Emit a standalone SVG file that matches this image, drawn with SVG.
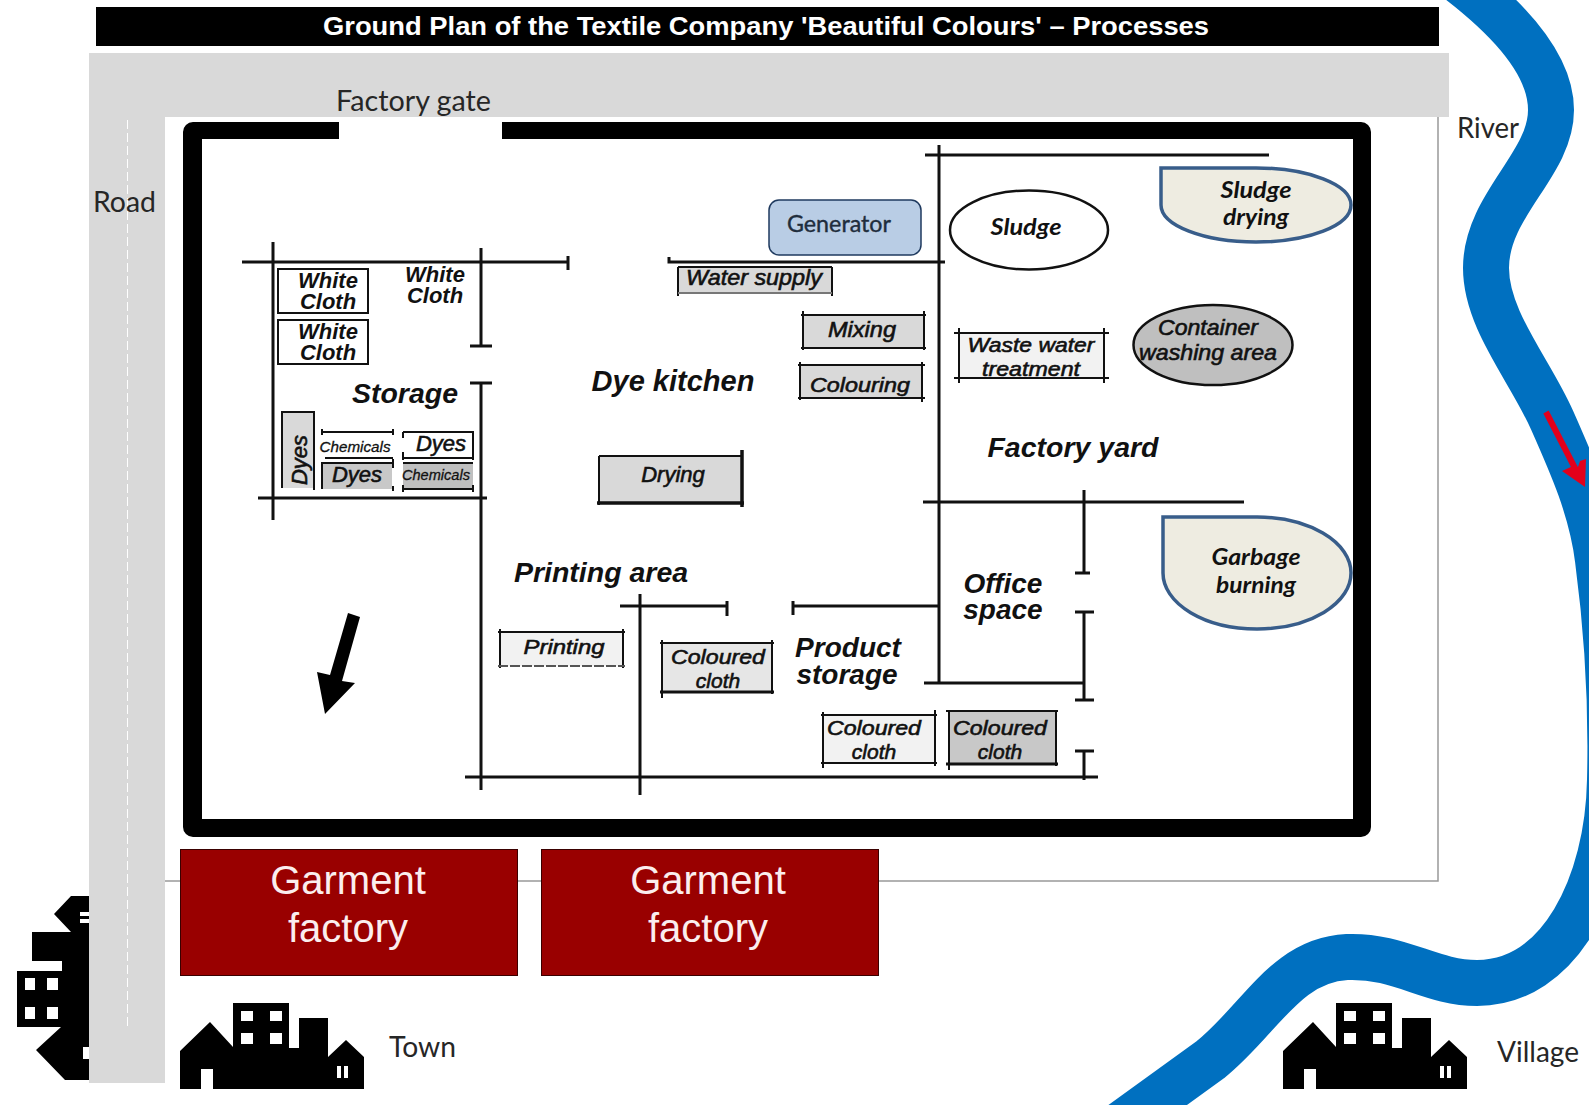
<svg xmlns="http://www.w3.org/2000/svg" xmlns:xlink="http://www.w3.org/1999/xlink" width="1589" height="1105" viewBox="0 0 1589 1105">
<style>
.c{font-family:Lato,"Open Sans","Noto Sans",sans-serif;fill:#262626}
.l{font-family:"Liberation Sans",Arial,sans-serif;font-style:italic;font-weight:700;fill:#111;text-anchor:middle}
.s{font-family:"Liberation Sans",Arial,sans-serif;font-style:italic;font-weight:400;fill:#111;text-anchor:middle;stroke:#111;stroke-width:.6}
.m{font-family:Lato,"Open Sans",sans-serif;font-style:italic;font-weight:700;fill:#111;text-anchor:middle}
.w{stroke:#111;stroke-width:3;fill:none}
.t{stroke:#111;stroke-width:2;fill:none}
.d{fill:#EEECE1;stroke:#385D8A;stroke-width:3.5}
.g{font-family:"Liberation Sans",Arial,sans-serif;font-size:40px;fill:#fbeeee;text-anchor:middle}
</style>
<defs>
<g id="town">
<path fill="#000" d="M180,1089V1051L210,1022L233,1047V1003H289V1048H299V1018H328V1057L346,1040L364,1057V1089H213V1069H201V1089Z"/>
<path fill="#fff" d="M241,1011h12v10h-12zM270,1011h12v10h-12zM241,1033h12v11h-12zM270,1033h12v11h-12zM337,1066h4v12h-4zM344,1066h4v12h-4z"/>
</g>
</defs>
<rect width="1589" height="1105" fill="#fff"/>
<g id="river">
<path fill="none" stroke="#0070C0" stroke-width="46" d="M1458,-20C1510,20 1551,65 1551,110C1551,165 1486,205 1486,268C1486,320 1530,370 1552,420C1572,465 1592,510 1598,560C1606,620 1612,700 1610,780C1608,885 1560,983 1477,983C1430,983 1400,955 1347,957C1285,960 1260,1020 1210,1060L1120,1125"/>
<path fill="none" stroke="#E3001B" stroke-width="6" d="M1546,412L1578,474"/>
<polygon fill="#E3001B" points="1585,487 1562,471 1573,466 1577,470 1580,461 1586,459"/>
</g>
<g id="road">
<use xlink:href="#town" transform="matrix(0,-1,1,0,-986,1260)"/>
<path fill="#D9D9D9" d="M89,53H1449V117H165V1083H89Z"/>
<path stroke="#fff" stroke-width="1" stroke-dasharray="9 4" fill="none" d="M127.500,120V1026"/>
</g>
<g id="site">
<rect x="165" y="117" width="1273" height="764" fill="#fff"/>
<path fill="none" stroke="#999" stroke-width="1.500" d="M165,881H1438V117"/>
</g>
<g id="title">
<rect x="96" y="7" width="1343" height="39" fill="#000"/>
<text x="766" y="35" font-family="Liberation Sans,Arial,sans-serif" font-weight="700" font-size="26" fill="#fff" text-anchor="middle" textLength="886" lengthAdjust="spacingAndGlyphs">Ground Plan of the Textile Company 'Beautiful Colours' – Processes</text>
</g>
<text class="c" x="336" y="111" font-size="28" textLength="155" lengthAdjust="spacingAndGlyphs">Factory gate</text>
<text class="c" x="93" y="212" font-size="28" textLength="63" lengthAdjust="spacingAndGlyphs">Road</text>
<text class="c" x="1457" y="138" font-size="28" textLength="62" lengthAdjust="spacingAndGlyphs">River</text>
<g id="wall">
<path fill="#000" fill-rule="evenodd" d="M193,122H1361A10,10 0 0 1 1371,132V827A10,10 0 0 1 1361,837H193A10,10 0 0 1 183,827V132A10,10 0 0 1 193,122ZM202,139V819H1353V139Z"/>
<rect x="339" y="120" width="163" height="20" fill="#fff"/>
</g>
<g id="garment-1"><rect x="180.500" y="849.500" width="337" height="126" fill="#990000" stroke="#3a0000"/>
<text class="g" x="348" y="894">Garment</text><text class="g" x="348" y="942">factory</text></g>
<g id="garment-2"><rect x="541.500" y="849.500" width="337" height="126" fill="#990000" stroke="#3a0000"/>
<text class="g" x="708" y="894">Garment</text><text class="g" x="708" y="942">factory</text></g>
<use id="town-icon" xlink:href="#town"/>
<use id="village-icon" xlink:href="#town" x="1103"/>
<text class="c" x="389" y="1057" font-size="28" textLength="67" lengthAdjust="spacingAndGlyphs">Town</text>
<text class="c" x="1497" y="1062" font-size="28" textLength="82" lengthAdjust="spacingAndGlyphs">Village</text>
<g id="walls">
<path class="w" d="M242,262H568M568,256V270M273,242V520M481,248V346M470,346H492M470,383H492M481,383V790M258,498H487"/>
<path class="w" d="M669,257V262H945M939,145V683M925,155H1269M923,502H1244"/>
<path class="w" d="M1084,490V573M1075,573H1090M1084,612V700M1075,612H1094M1075,700H1094M1084,751V780M1075,751H1094M465,777H1098M640,594V795M620,606H727M727,601V616M793,606H938M793,601V615M924,683H1084"/>
</g>
<g id="white-cloth-1"><rect x="278" y="269" width="90" height="44" fill="#fff" class="t"/><text class="l" font-size="22" x="328" y="288">White</text><text class="l" font-size="22" x="328" y="309">Cloth</text></g>
<g id="white-cloth-2"><rect x="278" y="320" width="90" height="44" fill="#fff" class="t"/><text class="l" font-size="22" x="328" y="339">White</text><text class="l" font-size="22" x="328" y="360">Cloth</text></g>
<g id="white-cloth-3"><text class="l" font-size="22" x="435" y="282">White</text><text class="l" font-size="22" x="435" y="303">Cloth</text></g>
<text class="l" font-size="28.500" x="405" y="403">Storage</text>
<text class="l" font-size="29" x="673" y="391">Dye kitchen</text>
<text class="l" font-size="28.500" x="601" y="582">Printing area</text>
<text class="l" font-size="28.500" x="1073" y="457">Factory yard</text>
<g id="office-space"><text class="l" font-size="28" x="1003" y="593">Office</text><text class="l" font-size="28" x="1003" y="619">space</text></g>
<g id="product-storage"><text class="l" font-size="28" x="848" y="657">Product</text><text class="l" font-size="28" x="847" y="684">storage</text></g>
<g id="dyes-v"><rect x="282" y="412" width="32" height="76" fill="#d9d9d9"/><path class="t" d="M282,488V412H314V490"/><text class="s" font-size="22" transform="translate(307,460) rotate(-90)">Dyes</text></g>
<g id="chem-1"><path class="t" d="M322,429V435M393,429V435M322,432H393M325,458H393"/><text class="s" font-size="15" x="355" y="452" textLength="71" lengthAdjust="spacingAndGlyphs" style="stroke-width:.3">Chemicals</text></g>
<g id="dyes-w"><path class="t" d="M403,432H473V460M403,432V438M403,458H473M403,452V460"/><text class="s" font-size="22" x="441" y="451">Dyes</text></g>
<g id="dyes-g"><rect x="322" y="463" width="70" height="26" fill="#c8c8c8"/><path class="t" d="M322,489V463H393"/><path class="t" d="M393,459V468M393,486V491"/><text class="s" font-size="22" x="357" y="482">Dyes</text></g>
<g id="chem-2"><rect x="403" y="463" width="70" height="26" fill="#bfbfbf"/><path class="t" d="M403,489H473M403,485V492M473,485V492M403,463H473"/><text class="s" font-size="15" x="436" y="480" textLength="68" lengthAdjust="spacingAndGlyphs" style="stroke-width:.3">Chemicals</text></g>
<g id="water-supply"><rect x="678" y="267" width="154" height="27" fill="#d9d9d9"/><path class="t" d="M678,267V296M832,267V296M678,267H832"/><path d="M678,293H832" stroke="#777" stroke-width="2"/><text class="s" font-size="22" x="754" y="285" textLength="136" lengthAdjust="spacingAndGlyphs">Water supply</text></g>
<g id="mixing"><rect x="803" y="315" width="121" height="33" fill="#d9d9d9"/><path class="t" d="M803,311V350M924,311V350M801,315H926M801,348H926"/><text class="s" font-size="22" x="862" y="337" textLength="68" lengthAdjust="spacingAndGlyphs">Mixing</text></g>
<g id="colouring"><rect x="800" y="365" width="122" height="33" fill="#d9d9d9"/><path class="t" d="M800,362V400M922,362V402M798,365H925M798,398H925"/><text class="s" font-size="21" x="860" y="392" textLength="100" lengthAdjust="spacingAndGlyphs">Colouring</text></g>
<g id="drying"><rect x="599" y="456" width="143" height="47" fill="#d9d9d9"/><path class="t" d="M599,456V505M599,456H742"/><path d="M742,450V507M597,503H744" stroke="#111" stroke-width="3.500" fill="none"/><text class="s" font-size="22" x="673" y="482">Drying</text></g>
<g id="generator"><rect x="769" y="200" width="152" height="55" rx="10" fill="#B9CDE5" stroke="#1F3A5F" stroke-width="1.500"/><text x="839" y="232" font-size="24" font-family="Lato,sans-serif" fill="#1f2d3d" stroke="#1f2d3d" stroke-width=".4" text-anchor="middle" textLength="104" lengthAdjust="spacingAndGlyphs">Generator</text></g>
<g id="sludge"><ellipse cx="1029" cy="230" rx="79" ry="39.500" fill="#fff" stroke="#111" stroke-width="2.500"/><text class="m" font-size="22" x="1026" y="235" textLength="71" lengthAdjust="spacingAndGlyphs">Sludge</text></g>
<g id="sludge-drying"><path class="d" d="M1161,168H1256A95,37 0 1 1 1161,205Z"/><text class="m" font-size="23" x="1256" y="198" textLength="71" lengthAdjust="spacingAndGlyphs">Sludge</text><text class="m" font-size="23" x="1256" y="225" textLength="66" lengthAdjust="spacingAndGlyphs">drying</text></g>
<g id="waste-water"><rect x="959" y="333" width="145" height="45" fill="#f2f2f2"/><path class="t" d="M959,328V383M1104,328V383M954,333H1109M954,378H1109"/><text class="s" font-size="21" x="1031" y="352" textLength="127" lengthAdjust="spacingAndGlyphs">Waste water</text><text class="s" font-size="21" x="1031" y="376" textLength="98" lengthAdjust="spacingAndGlyphs">treatment</text></g>
<g id="container"><ellipse cx="1213" cy="345" rx="79.500" ry="40" fill="#bfbfbf" stroke="#111" stroke-width="2.500"/><text class="s" font-size="22" x="1208" y="335" textLength="100" lengthAdjust="spacingAndGlyphs">Container</text><text class="s" font-size="22" x="1208" y="360" textLength="138" lengthAdjust="spacingAndGlyphs">washing area</text></g>
<g id="garbage"><path class="d" d="M1163,517H1256A94,56 0 1 1 1163,573Z"/><text class="m" font-size="23" x="1256" y="565" textLength="89" lengthAdjust="spacingAndGlyphs">Garbage</text><text class="m" font-size="23" x="1256" y="593" textLength="80" lengthAdjust="spacingAndGlyphs">burning</text></g>
<g id="printing"><rect x="500" y="632" width="123" height="34" fill="#f2f2f2"/><path class="t" d="M500,629V668M623,629V668M498,632H625"/><path d="M498,666H625" stroke="#555" stroke-width="2" stroke-dasharray="10 2"/><text class="s" font-size="21" x="564" y="654" textLength="81" lengthAdjust="spacingAndGlyphs">Printing</text></g>
<g id="cloth-a"><rect x="662" y="643" width="110" height="49" fill="#e6e6e6"/><path class="t" d="M662,640V698M772,640V694M660,643H774"/><path d="M660,692H774" stroke="#111" stroke-width="3"/><text class="s" font-size="21" x="718" y="664" textLength="94" lengthAdjust="spacingAndGlyphs">Coloured</text><text class="s" font-size="21" x="718" y="688">cloth</text></g>
<g id="cloth-b"><rect x="823" y="715" width="112" height="48" fill="#f2f2f2"/><path class="t" d="M823,712V768M935,710V766M821,715H937M821,763H937"/><text class="s" font-size="21" x="874" y="735" textLength="94" lengthAdjust="spacingAndGlyphs">Coloured</text><text class="s" font-size="21" x="874" y="759">cloth</text></g>
<g id="cloth-c"><rect x="949" y="711" width="107" height="53" fill="#c8c8c8"/><path class="t" d="M949,710V770M1056,710V766M946,711H1058"/><path d="M946,764H1058" stroke="#111" stroke-width="3"/><text class="s" font-size="21" x="1000" y="735" textLength="94" lengthAdjust="spacingAndGlyphs">Coloured</text><text class="s" font-size="21" x="1000" y="759">cloth</text></g>
<polygon id="direction-arrow" fill="#000" points="348,613 360,617 342,681 355,683 325,714 317,672 330,675"/>
</svg>
